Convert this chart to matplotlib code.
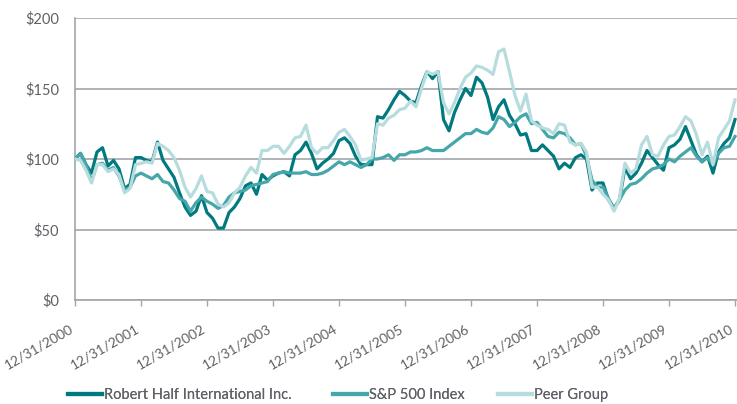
import matplotlib.pyplot as plt
import numpy as np

# month-end values, 12/31/2000 .. 12/31/2010 (index = 100 at start)
robert_half = [100, 104, 96, 90, 105, 108, 95, 99, 93, 79, 82, 101, 101,
               99, 98, 112, 99, 93, 87, 76, 66, 60, 63, 74, 62,
               58, 51, 51, 62, 66, 72, 81, 83, 75, 89, 85, 88,
               90, 91, 88, 103, 106, 112, 104, 93, 97, 100, 104, 113,
               115, 111, 102, 96, 96, 96, 130, 129, 135, 142, 148, 145,
               141, 140, 152, 162, 157, 162, 128, 120, 133, 142, 150, 145,
               158, 154, 144, 128, 137, 142, 131, 125, 117, 118, 106, 106,
               110, 106, 102, 93, 97, 94, 101, 103, 100, 78, 83, 83,
               71, 65, 71, 94, 86, 90, 97, 106, 101, 96, 92, 108,
               110, 114, 123, 113, 103, 98, 102, 90, 105, 111, 115, 128]

sp500 = [100, 104, 96, 84, 96, 97, 92, 94, 88, 78, 80, 88, 90,
         88, 86, 89, 84, 83, 78, 72, 70, 63, 69, 73, 70,
         68, 65, 67, 73, 76, 77, 78, 81, 82, 83, 84, 89,
         90, 91, 90, 90, 90, 91, 89, 89, 90, 92, 95, 98,
         96, 98, 96, 94, 96, 100, 100, 101, 103, 99, 103, 103,
         105, 105, 106, 108, 106, 106, 106, 109, 112, 115, 118, 118,
         121, 119, 118, 122, 130, 128, 123, 126, 130, 132, 125, 126,
         121, 116, 115, 119, 118, 115, 110, 111, 102, 85, 80, 80,
         72, 65, 71, 78, 82, 83, 86, 90, 93, 94, 96, 100,
         98, 102, 105, 108, 102, 98, 101, 96, 104, 108, 109, 116]

peer_group = [100, 99, 92, 83, 96, 96, 91, 93, 89, 76, 79, 96, 97,
              98, 97, 111, 109, 106, 101, 92, 80, 73, 79, 88, 77,
              76, 68, 66, 69, 76, 80, 88, 94, 90, 106, 106, 109,
              109, 104, 109, 115, 116, 124, 108, 104, 108, 108, 113, 119,
              121, 116, 110, 99, 100, 101, 125, 124, 129, 131, 135, 136,
              141, 137, 150, 162, 160, 162, 140, 132, 140, 150, 158, 161,
              166, 165, 163, 160, 176, 178, 162, 145, 134, 146, 127, 124,
              122, 121, 118, 125, 124, 112, 110, 111, 105, 80, 80, 75,
              71, 63, 72, 97, 90, 93, 110, 116, 103, 102, 110, 116,
              117, 123, 130, 127, 117, 103, 112, 96, 115, 121, 127, 142]

year_labels = ['12/31/%d' % y for y in range(2000, 2011)]
y_ticks = [0, 50, 100, 150, 200]

plt.rcParams['font.family'] = ['Lato', 'DejaVu Sans']

months = np.arange(len(robert_half))
grey = '#a2a5aa'
txt = '#5f6166'

fig = plt.figure(figsize=(7.37, 4.04), dpi=100)
ax = fig.add_axes([75 / 737, 104 / 404, 662 / 737, 282 / 404])

l1, = ax.plot(months, robert_half, color='#007a7e', lw=2.3, label='Robert Half International Inc.', zorder=3)
l2, = ax.plot(months, sp500, color='#46a7aa', lw=2.3, label='S&P 500 Index', zorder=4)
l3, = ax.plot(months, peer_group, color='#b7dcde', lw=2.3, label='Peer Group', zorder=5)

ax.set_ylim(0, 200)
ax.set_xlim(0, 120 * 662 / 660)
ax.set_yticks(y_ticks)
ax.set_yticklabels(['$%d' % v for v in y_ticks], fontsize=10.5, color=txt)
ax.set_xticks(np.arange(0, 121, 12))
ax.set_xticklabels(year_labels, rotation=30, ha='right', fontsize=10, color=txt)
ax.tick_params(axis='y', length=0, pad=11.5)
ax.tick_params(axis='x', length=4, width=1, color=grey, pad=12)

ax.grid(axis='y', color=grey, lw=1.2, zorder=1)
for s in ['top', 'right']:
    ax.spines[s].set_visible(False)
for s in ['left', 'bottom']:
    ax.spines[s].set_color(grey)
    ax.spines[s].set_linewidth(1.2)

# legend entries placed individually
for line, x0 in [(l1, 68), (l2, 333), (l3, 498)]:
    lg = fig.legend([line], [line.get_label()], loc='center left',
                    bbox_to_anchor=(x0 / 737, 1 - 395 / 404), frameon=False,
                    fontsize=10.5, handlelength=2.35, handletextpad=0.1,
                    borderpad=0, borderaxespad=0, labelcolor=txt)
    lg.get_lines()[0].set_linewidth(3)
    fig.add_artist(lg)

fig.savefig('out.png', dpi=100)
